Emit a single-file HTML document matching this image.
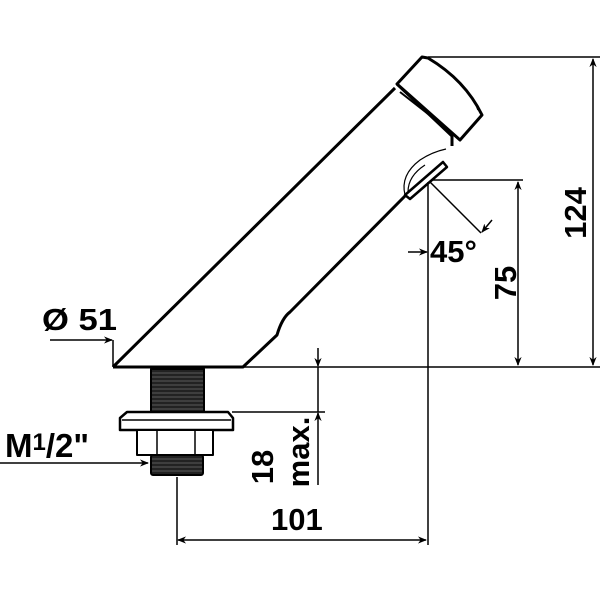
<!DOCTYPE html>
<html><head><meta charset="utf-8"><style>html,body{margin:0;padding:0;background:#fff}svg{display:block}</style></head>
<body>
<svg width="600" height="600" viewBox="0 0 600 600" xmlns="http://www.w3.org/2000/svg" font-family="Liberation Sans, DejaVu Sans, sans-serif" font-weight="bold">
<defs>
<marker id="a" viewBox="0 0 10 10" refX="10" refY="5" markerWidth="9" markerHeight="7" orient="auto-start-reverse" markerUnits="userSpaceOnUse"><path d="M0,1 L10,5 L0,9 L3,5 Z" fill="#000" stroke="#000" stroke-width="1"/></marker>
</defs>
<g fill="none" stroke="#000" stroke-width="3" stroke-linejoin="round">
<path d="M113,367 L395,88 M113,367 L243,367 L277,335 Q282,318 290,312 L405,196"/>
<path d="M397,84 L452,136 L452,146"/>
<path d="M397,84 L422,57 L428,58 Q465,80 482,115 L460,140 Z" fill="#fff"/>
<path d="M400,92 L455,135" stroke-width="2"/>
<path d="M428,58 Q470,85 478,110" stroke-width="1.5"/>
<path d="M405,195 L443,162 L447,167 L410,199 Z" stroke-width="2.5"/>
<path d="M405,195 Q400,175 420,160 Q432,152 446,149" stroke-width="1.2"/>
<path d="M408,192 Q408,176 425,165" stroke-width="1.2"/>
<rect x="151" y="369" width="53" height="43" fill="#222" stroke-width="2"/>
<path d="M127,412 L228,412 L233,418 L233,430 L120,430 L120,418 Z" fill="#fff" stroke-width="2.5"/>
<path d="M122,420 L231,420" stroke-width="1.5"/>
<rect x="137" y="430" width="76" height="25" fill="#fff" stroke-width="2"/>
<path d="M157,430 V455 M195,430 V455" stroke-width="1.5"/>
<rect x="151" y="455" width="52" height="20" rx="2" fill="#222" stroke-width="2"/>
</g>
<g stroke="#fff" stroke-width="0.6" opacity="0.5">
<path d="M152,373H203M152,377H203M152,381H203M152,385H203M152,389H203M152,393H203M152,397H203M152,401H203M152,405H203M152,409H203M152,459H202M152,463H202M152,467H202M152,471H202"/>
</g>
<g fill="none" stroke="#000" stroke-width="1.5">
<path d="M428,57 H600 M432,180 H523 M243,367 H600 M232,412 H325"/>
<path d="M593,59 V365" marker-start="url(#a)" marker-end="url(#a)"/>
<path d="M518,182 V365" marker-start="url(#a)" marker-end="url(#a)"/>
<path d="M428,182 V545"/>
<path d="M430,182 L481,233"/>
<path d="M492,220 L482,232" marker-end="url(#a)"/>
<path d="M408,252 L427,252" marker-end="url(#a)"/>
<path d="M50,340 H112" marker-end="url(#a)"/>
<path d="M113,340 V367"/>
<path d="M318,348 V366" marker-end="url(#a)"/>
<path d="M318,485 V413" marker-end="url(#a)"/>
<path d="M318,367 V412"/>
<path d="M0,463 H148" marker-end="url(#a)"/>
<path d="M177,477 V545"/>
<path d="M426,540 H178" marker-start="url(#a)" marker-end="url(#a)"/>
</g>
<g fill="#000" font-size="31">
<text x="42" y="330" textLength="75" lengthAdjust="spacingAndGlyphs">Ø 51</text>
<text x="430" y="262">45°</text>
<text x="5" y="457" font-size="33">M<tspan font-size="24" dy="-7">1</tspan><tspan dy="7">/2"</tspan></text>
<text x="271" y="530">101</text>
<text transform="translate(586,213) rotate(-90)" text-anchor="middle">124</text>
<text transform="translate(516,283) rotate(-90)" text-anchor="middle">75</text>
<text transform="translate(273,467) rotate(-90)" text-anchor="middle">18</text>
<text transform="translate(309,452) rotate(-90)" text-anchor="middle">max.</text>
</g>
</svg>
</body></html>
